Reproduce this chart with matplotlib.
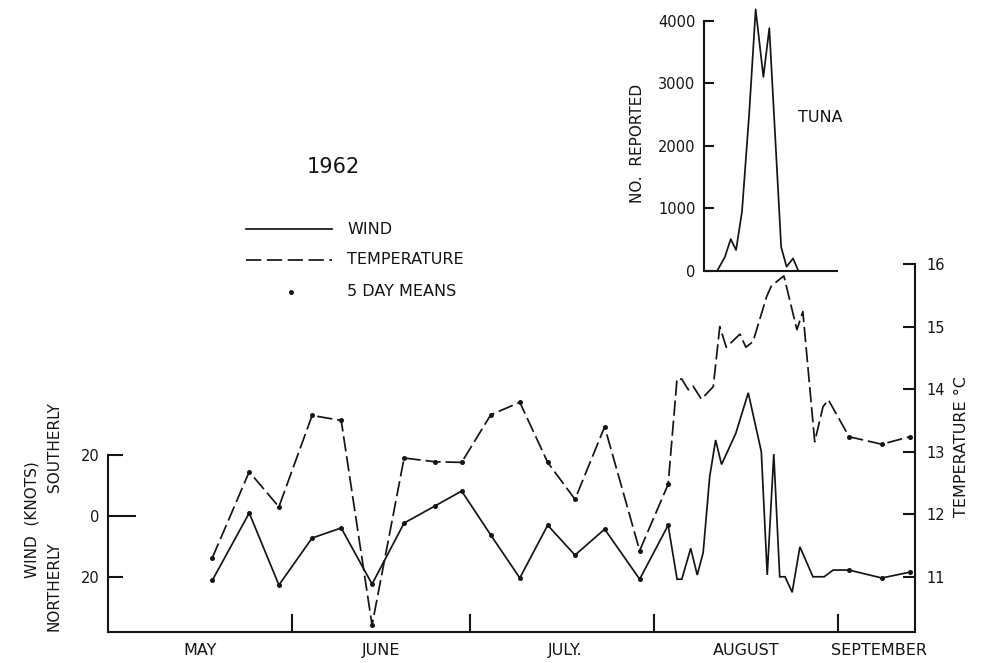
import matplotlib
matplotlib.use('Agg')
import matplotlib.pyplot as plt
from matplotlib.lines import Line2D
from matplotlib.ticker import FixedLocator, FixedFormatter, NullFormatter

plt.rcParams['font.family'] = ['DejaVu Sans']
plt.rcParams['lines.scale_dashes'] = False

# ---- data (days counted from 1 May 1962) ----
month_starts = [31, 61, 92, 123]
month_mid = [15.5, 46, 77, 107.5, 130]
month_names = ["MAY", "JUNE", "JULY.", "AUGUST", "SEPTEMBER"]

mean_days = [17.6, 23.8, 28.8, 34.4, 39.3, 44.5, 49.9, 55.1, 59.6, 64.5,
             69.4, 74.1, 78.7, 83.7, 89.6, 94.4]
wind_means = [-21.0, 1.0, -22.6, -7.2, -3.9, -22.3, -2.3, 3.3, 8.2, -6.2,
              -20.3, -3.0, -12.8, -4.3, -20.7, -3.0]
temp_means = [11.31, 12.68, 12.12, 13.58, 13.50, 10.23, 12.90, 12.84, 12.83,
              13.59, 13.79, 12.83, 12.24, 13.40, 11.42, 12.48]

aug_wind_days = [95.9, 96.7, 98.2, 99.3, 100.3, 101.4, 102.4, 103.4, 105.8,
                 107.9, 110.1, 111.1, 112.2, 113.2, 114.1, 115.3, 116.6,
                 118.8, 120.7, 122.2]
aug_wind = [-20.7, -20.7, -10.6, -19.3, -12.0, 12.9, 24.9, 16.9, 27.1, 40.4,
            21.1, -19.3, 20.3, -19.9, -19.9, -25.0, -10.1, -19.9, -19.9, -17.7]

aug_temp_days = [95.9, 96.7, 97.8, 98.6, 100.0, 102.0, 103.1, 104.2, 106.5,
                 107.5, 108.7, 111.0, 111.8, 113.9, 116.1, 117.1, 119.1,
                 120.5, 121.4]
aug_temp = [14.17, 14.16, 13.99, 14.05, 13.84, 14.04, 15.00, 14.67, 14.88,
            14.67, 14.76, 15.48, 15.65, 15.81, 14.95, 15.24, 13.16, 13.72, 13.83]

sep_days = [124.9, 130.4, 135.1]
sep_wind = [-17.7, -20.3, -18.4]
sep_temp = [13.24, 13.12, 13.24]

tuna_days = [102.6, 103.9, 104.9, 105.8, 106.8, 108.0, 109.1, 110.4, 111.4,
             113.4, 114.3, 115.4, 116.3]
tuna_counts = [0, 220, 510, 335, 950, 2500, 4180, 3100, 3880, 380, 70, 200, 0]

wind_ticks = [-20, 20]
wind_tick_labels = ["20", "20"]
temp_ticks = [11, 12, 13, 14, 15, 16]
tuna_ticks = [0, 1000, 2000, 3000, 4000]

# ---- figure ----
W, H = 981, 663
fig = plt.figure(figsize=(W / 100, H / 100), dpi=100)
fig.patch.set_facecolor('white')


def fx(px):
    return px / W


def fy(py):
    return 1 - py / H


LW = 1.25
DASH = (11, 3.5)
INK = '#151515'
MS = 3.6

ax = fig.add_axes([fx(108), fy(632), fx(915) - fx(108), fy(264) - fy(632)])
ax.patch.set_alpha(0)
ax2 = ax.twinx()

# wind (left axis)
wind_days = mean_days + aug_wind_days + sep_days
wind_all = wind_means + aug_wind + sep_wind
ax.plot(wind_days, wind_all, color=INK, lw=LW, solid_joinstyle='miter')
ax.plot(mean_days + sep_days, wind_means + sep_wind, 'o', color=INK, ms=MS,
        mec='none')
ax.set_xlim(0, 136.0)
ax.set_ylim(-38.0, 82.6)

# temperature (right axis)
temp_days = mean_days + aug_temp_days + sep_days
temp_all = temp_means + aug_temp + sep_temp
ax2.plot(temp_days, temp_all, color=INK, lw=LW, dashes=DASH)
ax2.plot(mean_days + sep_days, temp_means + sep_temp, 'o', color=INK, ms=MS,
         mec='none')
ax2.set_ylim(10.12, 16.0)

# spines
for a in (ax, ax2):
    a.spines['top'].set_visible(False)
ax.spines['right'].set_visible(False)
ax2.spines['left'].set_visible(False)
ax2.spines['bottom'].set_visible(False)
ax.spines['left'].set_bounds(-38.0, 20)
for s in ('left', 'bottom'):
    ax.spines[s].set_linewidth(1.5)
    ax.spines[s].set_color(INK)
ax2.spines['right'].set_linewidth(1.5)
ax2.spines['right'].set_color(INK)

# x axis: month boundaries as ticks, month names centred
ax.xaxis.set_major_locator(FixedLocator(month_starts))
ax.xaxis.set_major_formatter(NullFormatter())
ax.xaxis.set_minor_locator(FixedLocator(month_mid))
ax.xaxis.set_minor_formatter(FixedFormatter(month_names))
ax.tick_params(axis='x', which='major', direction='in', length=13, width=1.5,
               color=INK)
ax.tick_params(axis='x', which='minor', length=0, pad=8, labelsize=11.5,
               labelcolor=INK)

# left (wind) axis
ax.yaxis.set_major_locator(FixedLocator(wind_ticks))
ax.yaxis.set_major_formatter(FixedFormatter(wind_tick_labels))
ax.yaxis.set_minor_locator(FixedLocator([0]))
ax.yaxis.set_minor_formatter(FixedFormatter(["0"]))
ax.tick_params(axis='y', which='major', direction='in', length=10.5, width=1.5,
               pad=6, labelsize=10.5, color=INK, labelcolor=INK)
ax.tick_params(axis='y', which='minor', direction='in', length=20, width=1.5,
               pad=6, labelsize=10.5, color=INK, labelcolor=INK)

# right (temperature) axis
ax2.yaxis.set_major_locator(FixedLocator(temp_ticks))
ax2.tick_params(axis='y', which='major', direction='in', length=8.5, width=1.5,
                pad=8, labelsize=10.5, color=INK, labelcolor=INK)
ax2.yaxis.set_minor_locator(FixedLocator([]))

# axis titles
fig.text(fx(962), fy(447), "TEMPERATURE °C", rotation=90, ha='center',
         va='center', fontsize=11.5, color=INK)
fig.text(fx(32), fy(520), "WIND  (KNOTS)", rotation=90, ha='center',
         va='center', fontsize=11, color=INK)
fig.text(fx(54), fy(447), "SOUTHERLY", rotation=90, ha='center', va='center',
         fontsize=11, color=INK)
fig.text(fx(54), fy(586), "NORTHERLY", rotation=90, ha='center', va='center',
         fontsize=11, color=INK)

# title + legend keys
fig.text(fx(333), fy(167), "1962", ha='center', va='center', fontsize=15,
         color=INK)
fig.add_artist(Line2D([fx(246), fx(332)], [fy(229), fy(229)], color=INK,
                      lw=LW))
fig.add_artist(Line2D([fx(246), fx(332)], [fy(260), fy(260)], color=INK,
                      lw=LW, dashes=(11, 4)))
fig.add_artist(Line2D([fx(291)], [fy(292)], color=INK, marker='o', ms=MS,
                      mec='none', lw=0))
for txt, yy in (("WIND", 229), ("TEMPERATURE", 260), ("5 DAY MEANS", 292)):
    fig.text(fx(347), fy(yy), txt, ha='left', va='center', fontsize=11.5,
             color=INK)

# ---- inset: tuna ----
axi = fig.add_axes([fx(704), fy(271), fx(837) - fx(704), fy(5) - fy(271)])
axi.patch.set_alpha(0)
axi.plot(tuna_days, tuna_counts, color=INK, lw=LW)
axi.set_xlim(100.4, 122.8)
axi.set_ylim(0, 4250)
axi.spines['top'].set_visible(False)
axi.spines['right'].set_visible(False)
axi.spines['left'].set_bounds(0, 4000)
for s in ('left', 'bottom'):
    axi.spines[s].set_linewidth(1.5)
    axi.spines[s].set_color(INK)
axi.set_xticks([])
axi.yaxis.set_major_locator(FixedLocator(tuna_ticks))
axi.tick_params(axis='y', direction='in', length=7.5, width=1.5, pad=6,
                labelsize=10.5, color=INK, labelcolor=INK)
fig.text(fx(637), fy(143), "NO.  REPORTED", rotation=90, ha='center',
         va='center', fontsize=11, color=INK)
fig.text(fx(798), fy(118), "TUNA", ha='left', va='center', fontsize=11.5,
         color=INK)

fig.savefig('out.png', dpi=100, facecolor='white')
